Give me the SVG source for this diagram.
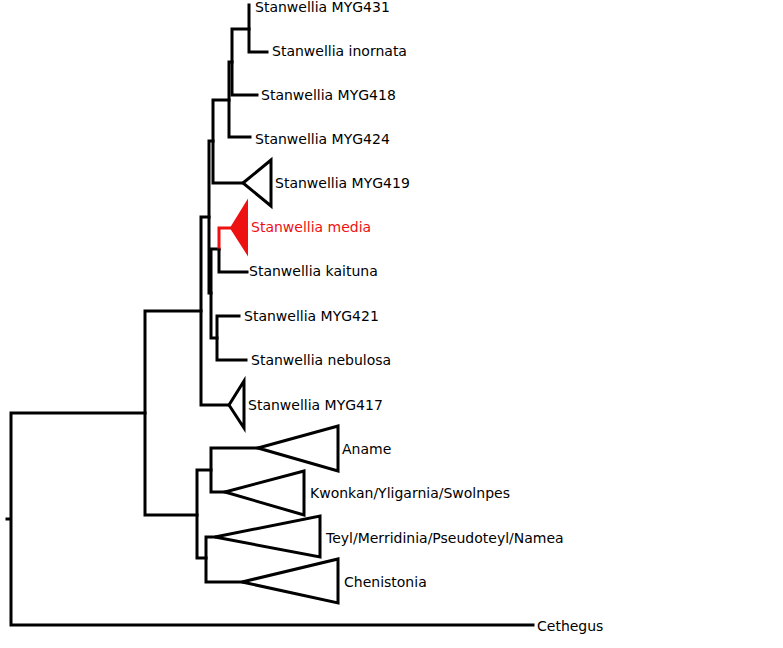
<svg xmlns="http://www.w3.org/2000/svg" width="783" height="648" viewBox="0 0 783 648">
<style>
.br{fill:none;stroke:#000;stroke-width:3;stroke-linecap:square;stroke-linejoin:miter}
.red{stroke:#ee1111}
.tri{fill:#fff;stroke:#000;stroke-width:3;stroke-linejoin:miter}
.trired{fill:#ee1111;stroke:#ee1111;stroke-width:2}
text{font-family:"DejaVu Sans","Liberation Sans",sans-serif;font-size:14px;fill:#000}
.lr{fill:#ee1111}
</style>
<rect width="783" height="648" fill="#fff"/>
<g id="connectors">
<path class="br" d="M7,519H11M11,413V625M11,413H145M11,625H533"/>
<path class="br" d="M145,311V515M145,311H201M145,515H197"/>
<path class="br" d="M201,217V405M201,217H209M201,405H229"/>
<path class="br" d="M209,141V293M209,141H213M209,293H211"/>
<path class="br" d="M213,100V183M213,100H229M213,183H243"/>
<path class="br" d="M229,62V137M229,62H232M229,137H250"/>
<path class="br" d="M232,29V95M232,29H249M232,95H257"/>
<path class="br" d="M249,5V52M249,52H267"/>
<path class="br" d="M211,249V338M211,249H219M211,338H217"/>
<path class="br red" d="M219,249V228H231"/>
<path class="br" d="M219,250V272H247"/>
<path class="br" d="M217,316V360M217,316H239M217,360H246"/>
<path class="br" d="M197,470V558M197,470H211M197,558H206"/>
<path class="br" d="M211,448V492M211,448H258M211,492H225"/>
<path class="br" d="M206,537V582M206,537H215M206,582H242"/>
</g>
<g id="n-myg431"><text x="255" y="12">Stanwellia MYG431</text></g>
<g id="n-inornata"><text x="272" y="56">Stanwellia inornata</text></g>
<g id="n-myg418"><text x="261" y="100">Stanwellia MYG418</text></g>
<g id="n-myg424"><text x="255" y="144">Stanwellia MYG424</text></g>
<g id="n-myg419"><polygon class="tri" points="243,183 271,160 271,206"/><text x="275" y="188">Stanwellia MYG419</text></g>
<g id="n-media"><polygon class="trired" points="231,228 247,202 247,253"/><text class="lr" x="251" y="232">Stanwellia media</text></g>
<g id="n-kaituna"><text x="249" y="276">Stanwellia kaituna</text></g>
<g id="n-myg421"><text x="244" y="321">Stanwellia MYG421</text></g>
<g id="n-nebulosa"><text x="251" y="365">Stanwellia nebulosa</text></g>
<g id="n-myg417"><polygon class="tri" points="229,405 244,381 244,428"/><text x="248" y="410">Stanwellia MYG417</text></g>
<g id="n-aname"><polygon class="tri" points="258,448 338,426 338,471"/><text x="342" y="454">Aname</text></g>
<g id="n-kwonkan"><polygon class="tri" points="225,492 304,471 304,515"/><text x="310" y="498">Kwonkan/Yligarnia/Swolnpes</text></g>
<g id="n-teyl"><polygon class="tri" points="215,537 320,516 320,557"/><text x="326" y="543">Teyl/Merridinia/Pseudoteyl/Namea</text></g>
<g id="n-chenistonia"><polygon class="tri" points="242,582 338,559 338,603"/><text x="344" y="587">Chenistonia</text></g>
<g id="n-cethegus"><text x="537" y="631">Cethegus</text></g>
</svg>
